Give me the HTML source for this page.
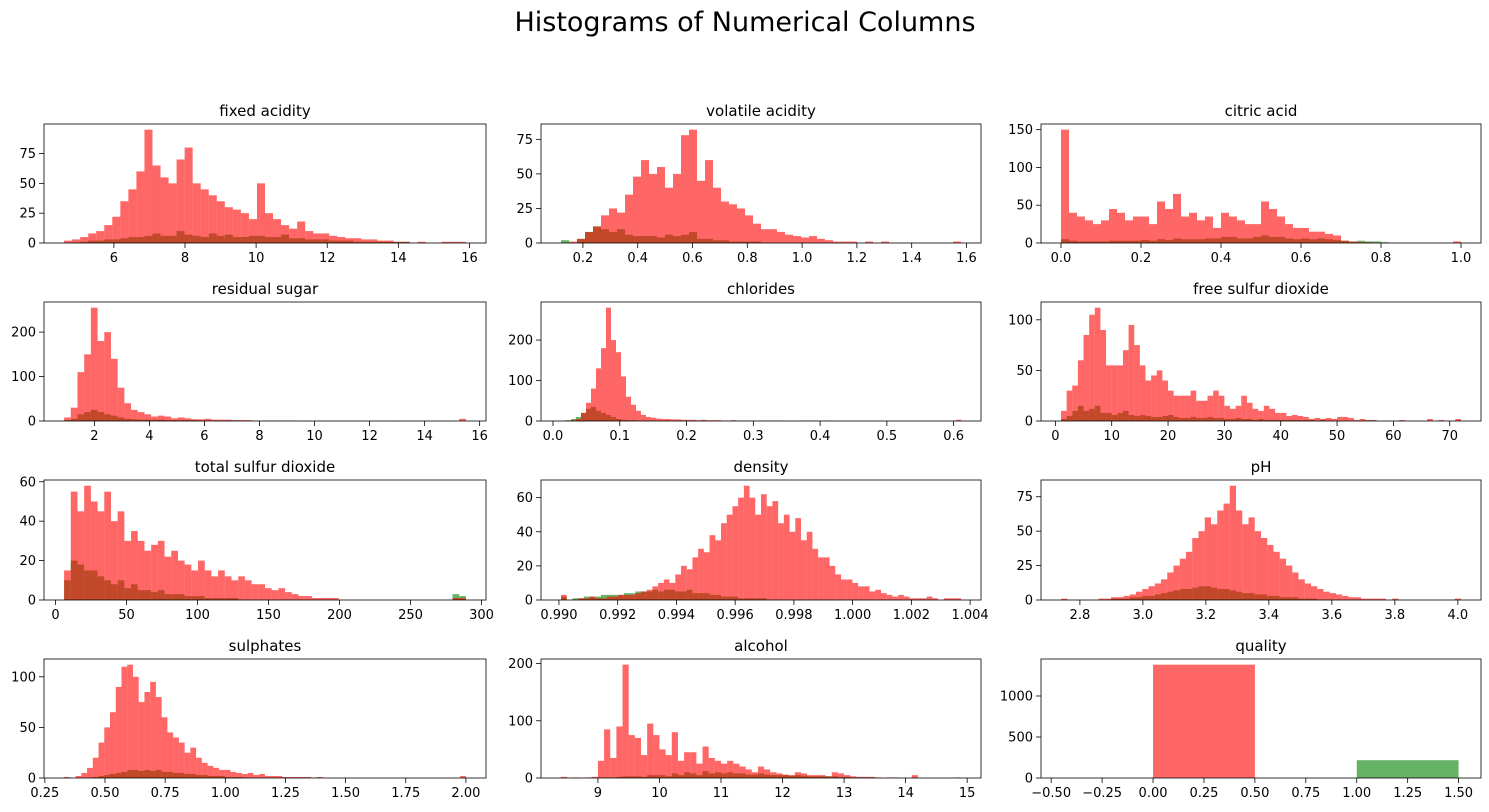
<!DOCTYPE html>
<html><head><meta charset="utf-8"><style>
body{margin:0;background:#fff;}
svg{display:block;font-family:"DejaVu Sans","Liberation Sans",sans-serif;}
</style></head><body>
<svg id="fig" width="1489" height="812">
<rect width="1489" height="812" fill="#fff"/>
<text x="745" y="31" text-anchor="middle" font-size="27" fill="#000">Histograms of Numerical Columns</text>
</svg>
<script>
const titles = ["fixed acidity","volatile acidity","citric acid","residual sugar","chlorides","free sulfur dioxide","total sulfur dioxide","density","pH","sulphates","alcohol","quality"];
const binRanges = [[4.6,15.9],[0.12,1.58],[0,1],[0.9,15.5],[0.012,0.611],[1,72],[6,289],[0.99007,1.00369],[2.74,4.01],[0.33,2.0],[8.4,14.9],[0,2]];
const xTicks = [[6,8,10,12,14,16],[0.2,0.4,0.6,0.8,1.0,1.2,1.4,1.6],[0,0.2,0.4,0.6,0.8,1.0],[2,4,6,8,10,12,14,16],[0,0.1,0.2,0.3,0.4,0.5,0.6],[0,10,20,30,40,50,60,70],[0,50,100,150,200,250,300],[0.990,0.992,0.994,0.996,0.998,1.000,1.002,1.004],[2.8,3.0,3.2,3.4,3.6,3.8,4.0],[0.25,0.5,0.75,1.0,1.25,1.5,1.75,2.0],[9,10,11,12,13,14,15],[-0.5,-0.25,0,0.25,0.5,0.75,1.0,1.25,1.5]];
const xTickLabels = [["6","8","10","12","14","16"],["0.2","0.4","0.6","0.8","1.0","1.2","1.4","1.6"],["0.0","0.2","0.4","0.6","0.8","1.0"],["2","4","6","8","10","12","14","16"],["0.0","0.1","0.2","0.3","0.4","0.5","0.6"],["0","10","20","30","40","50","60","70"],["0","50","100","150","200","250","300"],["0.990","0.992","0.994","0.996","0.998","1.000","1.002","1.004"],["2.8","3.0","3.2","3.4","3.6","3.8","4.0"],["0.25","0.50","0.75","1.00","1.25","1.50","1.75","2.00"],["9","10","11","12","13","14","15"],["−0.50","−0.25","0.00","0.25","0.50","0.75","1.00","1.25","1.50"]];
const yTicks = [[0,25,50,75],[0,25,50,75],[0,50,100,150],[0,100,200],[0,100,200],[0,50,100],[0,20,40,60],[0,20,40,60],[0,25,50,75],[0,50,100],[0,100,200],[0,500,1000]];
const redCounts = [
[2,3,5,8,10,15,22,35,45,60,95,65,55,50,70,80,50,45,40,35,30,28,25,20,50,25,20,15,12,18,10,8,8,6,5,4,4,3,3,2,2,1,1,0,1,0,0,1,1,1],
[0,1,3,8,12,20,25,22,35,48,60,50,55,40,50,78,82,45,60,40,30,28,25,20,14,10,10,8,6,5,4,5,3,2,1,1,1,0,1,0,1,0,0,0,0,0,0,0,0,1],
[150,40,35,30,25,30,45,40,30,35,35,25,55,45,65,35,40,30,35,20,40,35,30,25,25,55,45,35,25,20,20,15,15,12,10,3,2,1,1,0,0,0,0,0,0,0,0,0,0,2],
[8,30,110,150,255,180,200,140,75,40,25,20,15,10,12,10,6,8,6,4,4,5,3,3,3,2,2,2,1,1,1,1,1,1,1,0,1,0,1,0,0,1,0,0,1,0,0,0,0,1,0,0,0,0,0,0,0,0,0,5],
[0,1,2,5,20,45,80,130,180,280,200,170,110,60,40,25,15,10,8,6,5,5,4,4,3,3,3,2,3,2,2,2,1,1,2,1,1,1,1,1,1,1,1,1,1,0,0,1,1,1,1,1,1,1,1,0,0,0,0,0,0,0,0,0,0,0,0,0,0,0,0,0,0,0,0,0,0,0,0,3],
[10,30,35,60,85,105,112,90,55,55,55,70,95,75,55,40,45,50,40,30,25,25,25,30,20,20,25,30,25,15,12,15,25,18,12,10,15,12,8,8,5,6,5,4,2,3,2,3,2,4,4,3,1,2,1,1,0,0,0,0,1,0,0,0,0,2,0,1,0,0,2],
[15,55,45,58,50,45,55,40,45,30,35,30,25,28,30,22,25,20,18,15,20,15,12,15,12,10,12,10,8,8,6,5,6,4,3,2,2,1,1,1,1,0,0,0,0,0,0,0,0,0,0,0,0,0,0,0,0,0,1,1],
[3,0,0,1,1,2,1,1,2,2,3,3,3,4,5,6,8,10,12,10,15,20,18,25,30,28,38,35,45,50,55,60,67,60,50,62,55,58,45,50,40,48,35,40,30,25,25,20,15,12,12,10,8,8,5,6,4,3,2,3,2,1,1,1,2,1,0,1,1,1],
[1,0,0,0,0,0,1,1,2,2,3,4,6,8,10,12,15,20,25,30,35,45,50,60,55,65,70,83,65,55,60,50,45,40,35,30,25,20,15,12,10,8,6,5,4,3,2,2,1,1,1,1,0,1,0,0,0,0,0,0,0,0,0,1],
[1,0,2,5,10,20,35,50,65,90,110,112,100,75,85,95,80,60,45,40,35,25,30,20,15,12,10,8,8,6,5,4,5,3,4,2,2,2,1,1,1,1,1,0,1,0,0,0,0,0,0,0,0,0,0,0,0,0,0,0,0,0,0,0,0,0,0,0,0,2],
[2,0,1,0,1,2,30,85,35,90,198,75,70,40,95,75,50,40,80,30,45,45,25,55,35,30,25,30,25,20,15,10,20,15,10,8,6,5,10,8,5,5,5,3,10,8,5,3,2,2,2,1,0,1,1,0,0,5,0,0,0,0,0,0,1],
[1382,0,0,0]
];
const greenCounts = [
[0,0,1,2,2,3,3,4,5,5,6,8,6,6,10,7,6,5,8,6,7,5,5,6,6,5,5,7,4,4,3,3,3,2,2,2,1,1,1,1,1,1,1],
[2,0,3,8,12,10,8,10,6,5,5,5,4,6,5,6,8,3,3,2,2,1,1,1,1],
[5,3,2,2,2,2,3,3,3,3,4,3,5,4,6,5,5,5,6,6,8,8,6,6,8,10,8,8,6,5,6,5,6,5,4,3,2,3,2,2,1],
[2,5,15,20,25,20,15,12,8,5,4,3,3,3,3,2,2,2,2,2,1,1,1,1,1,1,1],
[1,2,5,10,20,30,35,25,20,15,10,5,3,2,2,1,1,1,1,1],
[2,5,10,15,10,12,15,8,8,6,8,10,6,5,6,5,4,4,5,6,4,3,3,4,3,3,4,3,3,2,2,3,2,2,1,2,1,1,1,1,1,1,1,1,1,0,1],
[10,20,18,15,15,12,10,8,10,6,8,5,5,4,5,3,3,3,2,2,2,1,1,1,1,1,0,0,0,0,0,0,0,0,0,0,0,0,0,0,0,0,0,0,0,0,0,0,0,0,0,0,0,0,0,0,0,0,3,2],
[2,0,1,1,2,2,2,3,3,3,3,4,4,5,5,5,6,5,6,6,5,5,6,4,4,4,3,3,2,2,2,1,1,1,1,1],
[0,0,0,0,0,0,0,0,1,1,1,2,2,3,3,4,5,6,7,8,8,9,10,10,9,8,8,7,6,5,5,4,4,3,3,2,2,2,1,1,1],
[0,0,0,0,0,1,2,3,4,5,6,8,8,7,8,7,8,6,6,5,5,4,4,3,3,2,2,2,1,1,1],
[0,0,0,0,0,0,0,1,0,2,3,3,3,2,5,5,5,3,8,5,10,8,5,12,8,10,8,10,8,8,6,6,8,6,5,5,5,4,5,4,3,3,3,3,3,2,2,1,1,1,1],
[0,0,217,0]
];
</script>
<script>
const svg = document.getElementById('fig');
const NS = 'http://www.w3.org/2000/svg';
const colX = [[44,486],[541,981],[1041,1481]];
const rowY = [[124,243],[302,421],[480,600],[659,778]];
function mk(tag, attrs, parent){const e=document.createElementNS(NS,tag);for(const k in attrs)e.setAttribute(k,attrs[k]);(parent||svg).appendChild(e);return e;}
for(let i=0;i<12;i++){
  const [x0,x1]=colX[i%3], [y0,y1]=rowY[Math.floor(i/3)];
  const g=mk('g',{});
  
  
  const [lo,hi]=binRanges[i];
  const nb=redCounts[i].length;
  let xmin,xmax;
  if(i===11){xmin=-0.55;xmax=1.61;}else{const m=(hi-lo)*0.05;xmin=lo-m;xmax=hi+m;}
  const maxC=Math.max(...redCounts[i],...greenCounts[i]);
  const ymax=maxC*1.05;
  const sx=v=>x0+(v-xmin)/(xmax-xmin)*(x1-x0);
  const sy=v=>y1-v/ymax*(y1-y0);
  function drawBars(arr,fill,name){
    const w=(hi-lo)/nb;
    arr.forEach((c,k)=>{ if(!c||k>=nb)return;
      const a=sx(lo+k*w),b=sx(lo+(k+1)*w);
      const r=mk('rect',{x:a,y:sy(c),width:Math.max(b-a,0.5),height:y1-sy(c),fill:fill,'fill-opacity':0.6},g);
      
      
    });
  }
  drawBars(greenCounts[i],'#008000','green-bar');
  drawBars(redCounts[i],'#ff0000','red-bar');
  const fr=mk('rect',{x:x0,y:y0,width:x1-x0,height:y1-y0,fill:'none',stroke:'#000','stroke-width':0.8},g);
  
  
  const t=mk('text',{x:(x0+x1)/2,y:y0-8,'text-anchor':'middle','font-size':15},g);t.textContent=titles[i];
  
  
  xTicks[i].forEach((v,k)=>{const x=sx(v);
    mk('line',{x1:x,x2:x,y1:y1,y2:y1+5,stroke:'#000','stroke-width':0.8},g);
    const l=mk('text',{x:x,y:y1+19,'text-anchor':'middle','font-size':13},g);l.textContent=xTickLabels[i][k];
    
    
  });
  yTicks[i].forEach(v=>{const y=sy(v);
    mk('line',{x1:x0-5,x2:x0,y1:y,y2:y,stroke:'#000','stroke-width':0.8},g);
    const l=mk('text',{x:x0-8,y:y+4.5,'text-anchor':'end','font-size':13},g);l.textContent=String(v);
    
    
  });
}
</script>
</body></html>
